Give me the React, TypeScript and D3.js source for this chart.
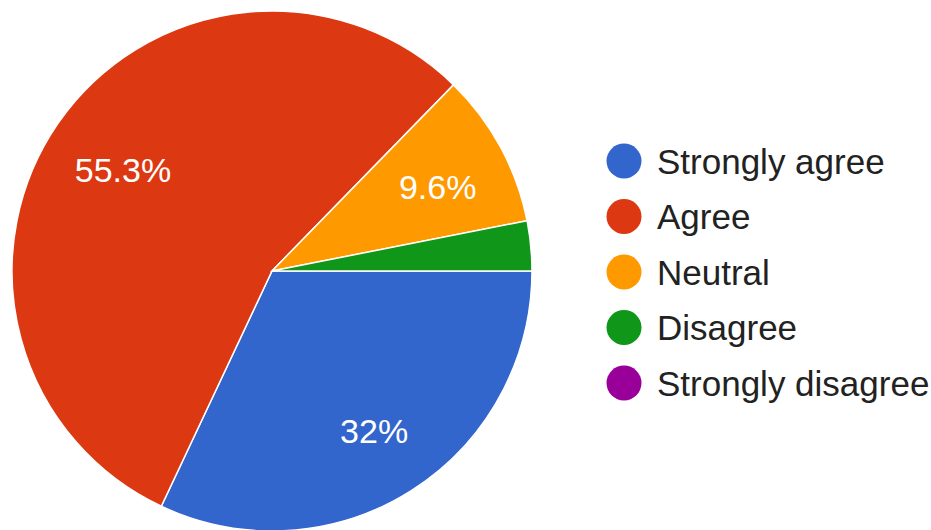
import React from "react";
import * as d3 from "d3";

const categories = ["Strongly agree", "Agree", "Neutral", "Disagree", "Strongly disagree"];
const values = [32, 55.3, 9.6, 3.1, 0];
const colors = ["#3366cc", "#dc3912", "#ff9900", "#109618", "#990099"];

const W = 931;
const H = 530;

export default function App() {
  const cx = 272;
  const cy = 271;
  const r = 260;
  const pie = d3
    .pie<number>()
    .sort(null)
    .value((d) => d)
    .startAngle(Math.PI / 2)
    .endAngle(Math.PI / 2 + 2 * Math.PI);
  const arcs = pie(values);
  const arc = d3.arc<d3.PieArcDatum<number>>().innerRadius(0).outerRadius(r);
  const labelArc = d3.arc<d3.PieArcDatum<number>>().innerRadius(185).outerRadius(185);

  const legendX = 624;
  const legendY0 = 161;
  const legendStep = 55.5;

  return (
    <svg
      width={W}
      height={H}
      style={{ position: "absolute", left: 0, top: 0, background: "#fff" }}
      fontFamily="'Liberation Sans', Arial, sans-serif"
    >
      <g transform={`translate(${cx},${cy})`}>
        {arcs.map((a, i) =>
          a.value > 0 ? (
            <path key={i} d={arc(a) || ""} fill={colors[i]} stroke="#fff" strokeWidth={1.5} />
          ) : null
        )}
        {arcs.map((a, i) => {
          if (a.value < 5) return null;
          const [x, y] = labelArc.centroid(a);
          return (
            <text
              key={"l" + i}
              x={x + 3}
              y={y + 4}
              textAnchor="middle"
              dominantBaseline="central"
              fill="#fff"
              fontSize={34}
            >
              {`${a.value}%`}
            </text>
          );
        })}
      </g>
      <g>
        {categories.map((c, i) => (
          <g key={c} transform={`translate(${legendX},${legendY0 + i * legendStep})`}>
            <circle r={17.5} fill={colors[i]} />
            <text x={33} y={0} dominantBaseline="central" fontSize={35} fill="#222">
              {c}
            </text>
          </g>
        ))}
      </g>
    </svg>
  );
}
